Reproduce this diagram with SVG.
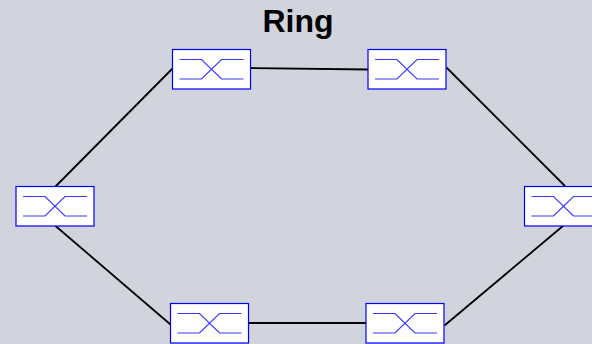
<svg xmlns="http://www.w3.org/2000/svg" width="592" height="344" viewBox="0 0 592 344">
<defs>
<style>
.box{fill:#ffffff;stroke:#0000ff;stroke-width:1.2}
.sym{fill:none;stroke:#3a3aff;stroke-width:1.2}
.edge{stroke:#000000;stroke-width:1.8;fill:none}
.title{font-family:"Liberation Sans",Arial,sans-serif;font-weight:bold;font-size:32px;fill:#000000}
</style>
<g id="switch">
<rect class="box" x="0" y="0" width="78" height="39.5"/>
<path class="sym" d="M7,10 H29 L49,29.5 H71 M7,29.5 H29 L49,10 H71"/>
</g>
</defs>
<rect x="0" y="0" width="592" height="344" fill="#d1d4dc"/>
<text class="title" x="298" y="32" text-anchor="middle">Ring</text>
<g id="connectors">
<line class="edge" x1="55" y1="187" x2="172.5" y2="68.5"/>
<line class="edge" x1="250.5" y1="68" x2="368" y2="69.5"/>
<line class="edge" x1="446.5" y1="67.5" x2="565" y2="186"/>
<line class="edge" x1="563.5" y1="225.5" x2="444.5" y2="325.5"/>
<line class="edge" x1="366" y1="323" x2="248.5" y2="323"/>
<line class="edge" x1="170.5" y1="324.5" x2="55" y2="225.5"/>
</g>
<g id="node-left"><use href="#switch" x="16" y="186.5"/></g>
<g id="node-top-left"><use href="#switch" x="172.5" y="49.5"/></g>
<g id="node-top-right"><use href="#switch" x="368" y="49.5"/></g>
<g id="node-right"><use href="#switch" x="524.5" y="186.5"/></g>
<g id="node-bottom-right"><use href="#switch" x="366" y="303.5"/></g>
<g id="node-bottom-left"><use href="#switch" x="170.5" y="303.5"/></g>
</svg>
